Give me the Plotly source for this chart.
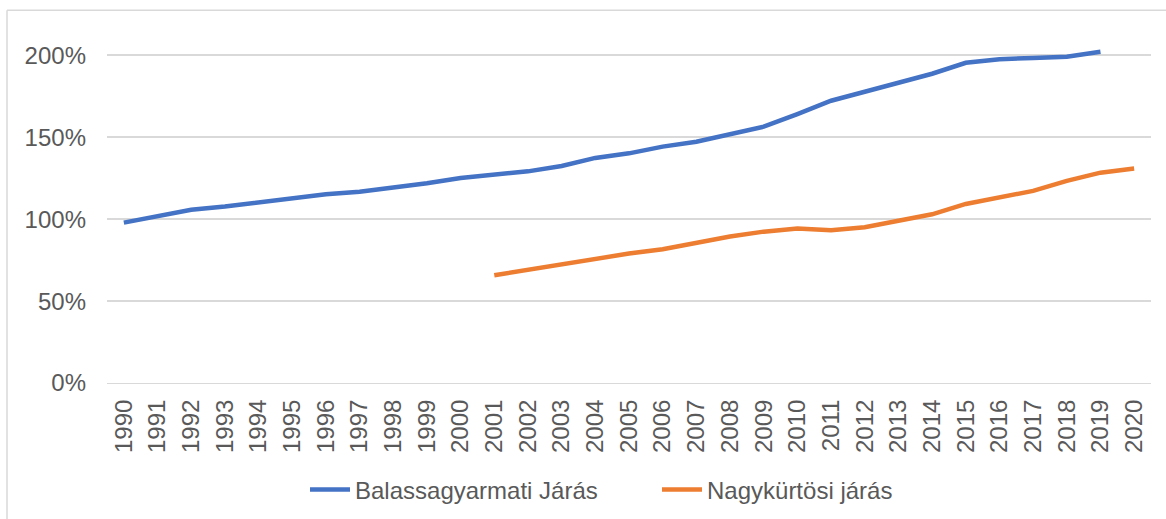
import plotly.graph_objects as go

years = [str(y) for y in range(1990, 2021)]

# index values, share of base (1.0 = 100%)
balassagyarmati = [0.979, 1.018, 1.057, 1.077, 1.101, 1.124, 1.152, 1.168, 1.191, 1.219,
                   1.252, 1.270, 1.292, 1.325, 1.374, 1.402, 1.443, 1.473, 1.518, 1.565,
                   1.642, 1.723, 1.778, 1.833, 1.888, 1.955, 1.977, 1.984, 1.992, 2.022, None]
nagykurtosi = [None] * 11 + [0.658, 0.691, 0.725, 0.758, 0.790, 0.817, 0.857, 0.894, 0.924,
                             0.943, 0.933, 0.951, 0.990, 1.030, 1.093, 1.134, 1.173, 1.234,
                             1.284, 1.309]

fnt = "Liberation Sans, Arial, sans-serif"
txt = "#595959"
grid = "#D9D9D9"
fs = 24

fig = go.Figure()
fig.add_scatter(x=years, y=balassagyarmati, mode="lines", name="Balassagyarmati Járás",
                line=dict(color="#4472C4", width=4.5), cliponaxis=False)
fig.add_scatter(x=years, y=nagykurtosi, mode="lines", name="Nagykürtösi járás",
                line=dict(color="#ED7D31", width=4.5), cliponaxis=False)

fig.update_layout(
    width=1166, height=519,
    margin=dict(l=107, r=15, t=39, b=136),
    paper_bgcolor="white", plot_bgcolor="white",
    font=dict(family=fnt, size=fs, color=txt),
    showlegend=True,
    legend=dict(orientation="h", xref="container", yref="container",
                x=305 / 1166, xanchor="left", y=0.056, yanchor="middle",
                font=dict(size=fs, color=txt), itemwidth=40,
                entrywidth=297, entrywidthmode="pixels",
                tracegroupgap=0),
)
fig.update_xaxes(type="category", range=[-0.5, 30.5], automargin=False,
                 showgrid=False, showline=True, linecolor=grid,
                 linewidth=1, tickangle=-90, ticks="", ticklabelstandoff=6,
                 tickfont=dict(size=fs, color=txt))
fig.update_yaxes(range=[0, 2.1], dtick=0.5, tickformat=".0%", automargin=False,
                 showgrid=True, gridcolor=grid, gridwidth=1.5, zeroline=False,
                 showline=False, ticks="", ticklabelstandoff=20,
                 tickfont=dict(size=fs, color=txt))

# outer chart border (light grey)
fig.add_shape(type="line", xref="paper", yref="paper",
              x0=(7 - 107) / 1044, x1=(7 - 107) / 1044,
              y0=(383.3 - 10) / 344.4, y1=(383.3 - 530) / 344.4,
              line=dict(color=grid, width=1.5))
fig.add_shape(type="line", xref="paper", yref="paper",
              x0=(7 - 107) / 1044, x1=(1170 - 107) / 1044,
              y0=(383.3 - 10) / 344.4, y1=(383.3 - 10) / 344.4,
              line=dict(color=grid, width=1.5))

fig.write_html("out.html", config={"displayModeBar": False},
               post_script="document.body.style.margin='0';")
